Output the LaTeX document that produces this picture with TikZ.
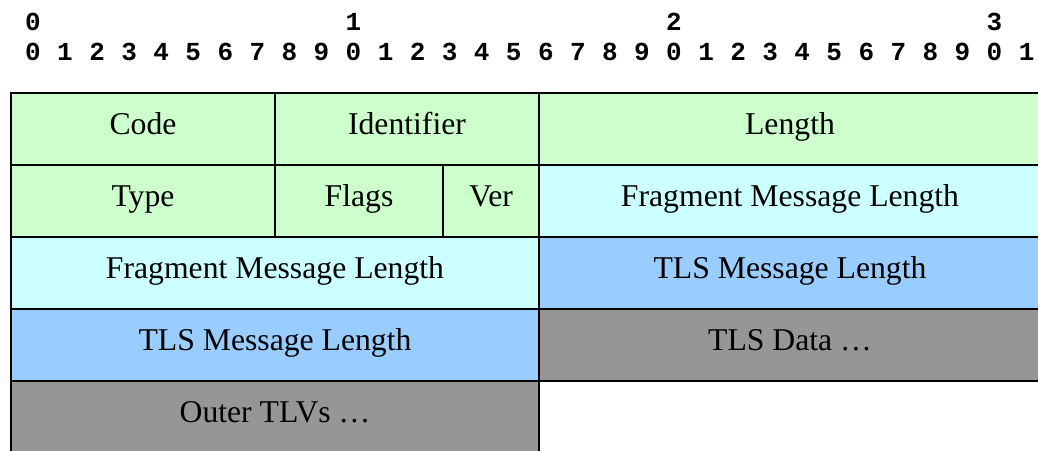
\documentclass[tikz,border=0pt]{standalone}
\usepackage{fontspec}
\setmainfont{Liberation Serif}
\newfontfamily\bitfont{Liberation Mono}
\definecolor{hdrgreen}{HTML}{CCFFCC}
\definecolor{fragcyan}{HTML}{CCFFFF}
\definecolor{tlsblue}{HTML}{99CCFF}
\definecolor{datagray}{HTML}{969696}
\tikzset{
  field/.style={draw, line width=1pt, anchor=north west, inner sep=0pt,
    minimum height=36pt, text height=11pt, text depth=6pt,
    font=\fontsize{15.85}{19}\selectfont},
  wide/.style={minimum width=#1*0.5pt}
}
\begin{document}
\begin{tikzpicture}[x=0.5pt, y=-0.5pt]
            \useasboundingbox (0,0) rectangle (1038,450);
            \clip (0,0) rectangle (1038,450);

            \begin{scope}[every node/.style={font=\bitfont\bfseries\fontsize{13}{15}\selectfont, inner sep=0pt}]
                \foreach \d in {0,...,3}
                    \node (t\d) at (33+320.5*\d,22) {\d};
                \foreach [evaluate=\i as \d using {int(mod(\i,10))}] \i in {0,...,31}
                    \node (b\i) at (33+32.05*\i,52) {\d};
            \end{scope}

            \begin{scope}[every node/.style={field}]
                \node[fill=hdrgreen, wide=264] (code) at (10,92) {Code};
                \node[fill=hdrgreen, wide=264] (ident) at (274,92) {Identifier};
                \node[fill=hdrgreen, wide=502] (len) at (538,92) {Length};
                \node[fill=hdrgreen, wide=264] (type) at (10,164) {Type};
                \node[fill=hdrgreen, wide=168] (flags) at (274,164) {Flags};
                \node[fill=hdrgreen, wide=96] (ver) at (442,164) {Ver};
                \node[fill=fragcyan, wide=502] (fraglenA) at (538,164) {Fragment Message Length};
                \node[fill=fragcyan, wide=528] (fraglenB) at (10,236) {Fragment Message Length};
                \node[fill=tlsblue, wide=502] (tlslenA) at (538,236) {TLS Message Length};
                \node[fill=tlsblue, wide=528] (tlslenB) at (10,308) {TLS Message Length};
                \node[fill=datagray, wide=502] (tlsdata) at (538,308) {TLS Data …};
                \node[fill=datagray, wide=528] (outer) at (10,380) {Outer TLVs …};
            \end{scope}
\end{tikzpicture}
\end{document}
